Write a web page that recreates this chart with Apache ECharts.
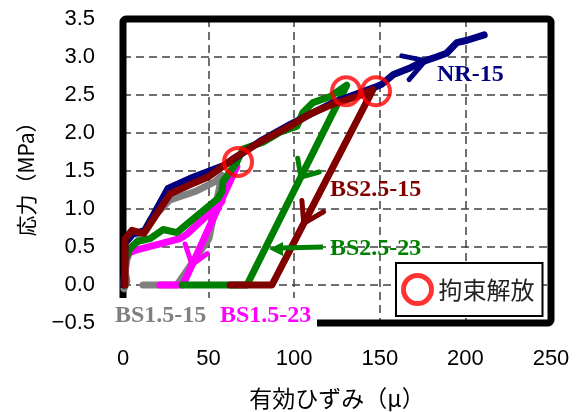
<!DOCTYPE html>
<html>
<head>
<meta charset="utf-8">
<script src="https://cdn.jsdelivr.net/npm/echarts@6/dist/echarts.min.js"></script>
<style>
html, body { margin: 0; padding: 0; background: #fff; }
#chart { width: 578px; height: 412px; }
</style>
</head>
<body>
<div id="chart"></div>
<script>
// Stress–strain paths, [effective strain (μ), stress (MPa)]
const nr15 = [
  [0.6, 0], [1.2, 0.55], [5.8, 0.67], [12.9, 0.72], [26.3, 1.27], [39, 1.40],
  [59.6, 1.58], [80, 1.89], [97.5, 2.11], [122.7, 2.40], [147, 2.60], [151, 2.64],
  [158, 2.77], [168, 2.86], [175, 2.94], [183, 3.00], [189, 3.05], [195, 3.19],
  [201, 3.22], [211, 3.29]
];
const bs25_15 = [
  [1.2, 0], [1.2, 0.61], [5.3, 0.72], [8.2, 0.70], [12.3, 0.68], [27.5, 1.20],
  [40.3, 1.33], [49.6, 1.42], [64.3, 1.66], [80, 1.88], [97.5, 2.09], [109.2, 2.25],
  [122.7, 2.38], [136.7, 2.48], [146, 2.57], [87, 0], [62.5, 0]
];
const bs25_23 = [
  [0.6, 0], [1.2, 0.33], [4.1, 0.48], [8.2, 0.57], [15.8, 0.61], [23.4, 0.73],
  [31.5, 0.69], [55.5, 1.14], [57.8, 1.23], [58.4, 1.36], [66.6, 1.62], [70.1, 1.79],
  [81.8, 1.88], [91.7, 2.01], [101.6, 2.09], [105.1, 2.27], [111, 2.40], [121, 2.48],
  [130.7, 2.63], [72.4, 0], [34.5, 0]
];
const bs15_23 = [
  [0.6, 0], [1.2, 0.29], [2.9, 0.42], [9.3, 0.47], [21.6, 0.54], [33.3, 0.61],
  [37.4, 0.67], [57.8, 1.10], [59.6, 1.31], [62.5, 1.42], [66.5, 1.56], [35, 0], [21.6, 0]
];
const bs15_15 = [
  [0.6, -0.05], [2.3, 0.05], [1.2, 0.18], [2.3, 0.33], [4.1, 0.46], [6.4, 0.52],
  [9.9, 0.61], [15.8, 0.85], [27.5, 1.12], [42.1, 1.23], [53.7, 1.36], [57.8, 1.44],
  [50.2, 0.61], [31.5, 0], [11.7, 0]
];
// Points where the restraint was released
const releasePoints = [[67.2, 1.62], [130.3, 2.55], [147.8, 2.55]];

// Axis ranges
const strainMin = 0, strainMax = 250, strainStep = 50;
const stressMin = -0.5, stressMax = 3.5, stressStep = 0.5;

const COLORS = {
  nr: '#000080', bs25_15: '#800000', bs25_23: '#008000',
  bs15_23: '#ff00ff', bs15_15: '#808080', release: '#ff0000'
};

const GRID = { left: 123, top: 19, right: 27, bottom: 89 };
const W = 578, H = 412;

function pathSeries(name, data, color) {
  return {
    name, type: 'line', data,
    symbol: 'none', showSymbol: false, silent: true,
    lineStyle: { color, width: 7, cap: 'round', join: 'round' },
    itemStyle: { color }
  };
}

const option = {
  animation: false,
  backgroundColor: '#fff',
  grid: { left: GRID.left, top: GRID.top, right: GRID.right, bottom: GRID.bottom, containLabel: false },
  xAxis: {
    type: 'value', min: strainMin, max: strainMax, interval: strainStep,
    axisLine: { show: false }, axisTick: { show: false },
    axisLabel: { margin: 25, color: '#000', fontSize: 22, fontFamily: 'Liberation Sans' },
    splitLine: { show: true, lineStyle: { color: '#404040', width: 1.5, type: [8, 5] } }
  },
  yAxis: {
    type: 'value', min: stressMin, max: stressMax, interval: stressStep,
    axisLine: { show: false }, axisTick: { show: false },
    axisLabel: {
      margin: 28, color: '#000', fontSize: 22, fontFamily: 'Liberation Sans',
      formatter: v => (v < 0 ? '\u2212' : '') + Math.abs(v).toFixed(1)
    },
    splitLine: { show: true, lineStyle: { color: '#404040', width: 1.5, type: [8, 5] } }
  },
  legend: {
    data: [{
      name: '拘束解放', icon: 'circle',
      itemStyle: { color: 'rgba(0,0,0,0)', borderColor: COLORS.release, borderWidth: 5 }
    }],
    left: 396, top: 263, orient: 'horizontal',
    itemWidth: 28, itemHeight: 28, itemGap: 0,
    padding: [10, 8, 10, 5],
    backgroundColor: '#fff', borderColor: '#000', borderWidth: 2,
    textStyle: { color: '#222', fontSize: 24, fontFamily: 'Noto Sans CJK JP', padding: [0, 0, 0, 2] },
    selectedMode: false
  },
  series: [
    pathSeries('BS1.5-15', bs15_15, COLORS.bs15_15),
    pathSeries('BS1.5-23', bs15_23, COLORS.bs15_23),
    pathSeries('BS2.5-23', bs25_23, COLORS.bs25_23),
    pathSeries('NR-15', nr15, COLORS.nr),
    pathSeries('BS2.5-15', bs25_15, COLORS.bs25_15),
    {
      name: '拘束解放', type: 'scatter', data: releasePoints, z: 5,
      symbol: 'circle', symbolSize: 28, silent: true,
      itemStyle: { color: 'rgba(0,0,0,0)', borderColor: COLORS.release, borderWidth: 4 }
    }
  ]
};

const chart = echarts.init(document.getElementById('chart'), null, { renderer: 'canvas' });
chart.setOption(option);

// Direction chevrons drawn on a path segment, placed from the data through the grid's scale
const toPx = p => chart.convertToPixel({ gridIndex: 0 }, p);
function chevron(points, seg, t, arms, color) {
  const a = toPx(points[seg]), b = toPx(points[seg + 1]);
  const apex = [a[0] + (b[0] - a[0]) * t, a[1] + (b[1] - a[1]) * t];
  const back = Math.atan2(a[1] - b[1], a[0] - b[0]);
  const tip = ([deg, len]) => {
    const ang = back + deg * Math.PI / 180;
    return [apex[0] + len * Math.cos(ang), apex[1] + len * Math.sin(ang)];
  };
  return {
    type: 'polyline', z: 10,
    shape: { points: [tip(arms[0]), apex, tip(arms[1])] },
    style: { stroke: color, lineWidth: 5, fill: null, lineCap: 'round', lineJoin: 'round' }
  };
}

const serifBold = 'bold 24px "Liberation Serif"';
function label(text, x, y, color) {
  return {
    type: 'text', z: 20, x, y,
    style: { text, fill: color, font: serifBold, align: 'left', verticalAlign: 'middle' }
  };
}

const plotW = W - GRID.left - GRID.right, plotH = H - GRID.top - GRID.bottom;

chart.setOption({
  graphic: [
    // heavy plot frame
    {
      type: 'rect', z: 1,
      shape: { x: GRID.left, y: GRID.top, width: plotW, height: plotH, r: 3 },
      style: { fill: null, stroke: '#000', lineWidth: 7 }
    },
    chevron(nr15, 14, 0.2, [[30, 24], [-31, 25]], COLORS.nr),
    chevron(bs25_15, 14, 0.685, [[-32, 23], [32, 23]], COLORS.bs25_15),
    chevron(bs25_23, 18, 0.46, [[-36, 19], [48, 19]], COLORS.bs25_23),
    chevron(bs15_23, 10, 0.83, [[-43, 22], [29, 19]], COLORS.bs15_23),
    label('NR-15', 437, 75, COLORS.nr),
    label('BS2.5-15', 330, 190, COLORS.bs25_15),
    label('BS2.5-23', 330, 249, COLORS.bs25_23),
    // pointer from the BS2.5-23 label to its unloading path
    {
      type: 'line', z: 20,
      shape: { x1: 323, y1: 247, x2: 281, y2: 248 },
      style: { stroke: COLORS.bs25_23, lineWidth: 5 }
    },
    {
      type: 'polygon', z: 20,
      shape: { points: [[269, 249], [283, 242], [283, 256]] },
      style: { fill: COLORS.bs25_23 }
    },
    // white plate behind the BS1.5 labels
    {
      type: 'rect', z: 19,
      shape: { x: 110, y: 298, width: 207, height: 36 },
      style: { fill: '#fff' }
    },
    label('BS1.5-15', 115, 316, COLORS.bs15_15),
    label('BS1.5-23', 220, 316, COLORS.bs15_23),
    // axis titles
    {
      type: 'text', z: 20, x: 26, y: 174, rotation: Math.PI / 2,
      style: { text: '応力（MPa）', fill: '#000', font: '21px "Noto Sans CJK JP"', align: 'center', verticalAlign: 'middle' }
    },
    {
      type: 'text', z: 20, x: 337, y: 398,
      style: { text: '有効ひずみ（μ）', fill: '#000', font: '23px "Noto Sans CJK JP"', align: 'center', verticalAlign: 'middle' }
    }
  ]
});
</script>
</body>
</html>
